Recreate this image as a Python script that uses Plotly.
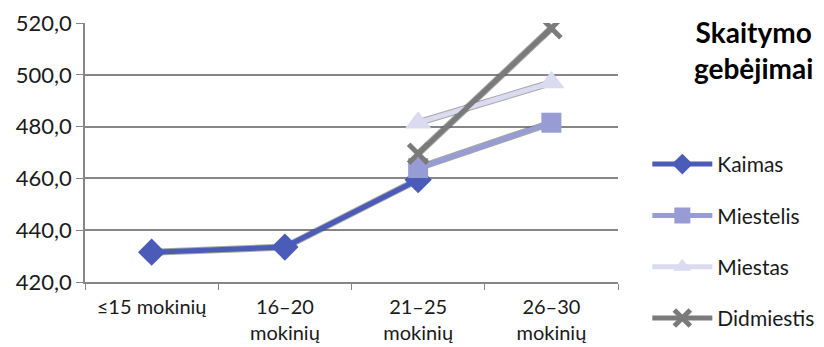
import plotly.graph_objects as go

categories = ["≤15 mokinių", "16–20<br>mokinių", "21–25<br>mokinių", "26–30<br>mokinių"]
kaimas = [431.5, 433.5, 459.5, None]
miestelis = [None, None, 464.0, 481.5]
miestas = [None, None, 481.5, 497.0]
didmiestis = [None, None, 469.5, 518.0]

series = [
    ("Kaimas", kaimas, "#4a5bb8", "diamond", 21),
    ("Miestelis", miestelis, "#979cd5", "square", 20),
    ("Miestas", miestas, "#dadaf0", "triangle-up", 23),
    ("Didmiestis", didmiestis, "#7a7a7a", "x-thin", 19),
]

font_family = "Lato, 'Open Sans', sans-serif"

fig = go.Figure()
# soft dark edge under each line
for name, vals, color, sym, size in series:
    fig.add_trace(go.Scatter(
        x=categories, y=vals, mode="lines",
        line=dict(color="rgba(60,60,60,0.45)", width=7),
        showlegend=False, hoverinfo="skip",
    ))
for name, vals, color, sym, size in series:
    marker = dict(symbol=sym, size=size, color=color)
    if sym == "x-thin":
        marker["line"] = dict(color=color, width=5)
    fig.add_trace(go.Scatter(
        x=categories, y=vals, name=name, mode="lines+markers",
        line=dict(color=color, width=5),
        marker=marker,
        connectgaps=False,
        legendgroup=name,
    ))

fig.update_layout(
    width=824, height=347,
    margin=dict(l=85, r=206, t=23, b=65, autoexpand=False),
    plot_bgcolor="white", paper_bgcolor="white",
    font=dict(family=font_family, size=22, color="#1a1a1a"),
    separators=",.",
    showlegend=True,
    legend=dict(
        x=1.055, y=0.533, xanchor="left", yanchor="top",
        font=dict(size=21), tracegroupgap=21,
        traceorder="grouped", itemwidth=60,
        bgcolor="rgba(0,0,0,0)",
    ),
    annotations=[dict(
        text="<b>Skaitymo<br>gebėjimai</b>", xref="paper", yref="paper",
        x=1.255, y=1.04, xanchor="center", yanchor="top", showarrow=False,
        font=dict(size=28, color="black", family=font_family), align="center",
    )],
)
fig.update_xaxes(
    type="category", range=[-0.5, 3.5], tickson="boundaries",
    ticks="outside", ticklen=6, tickcolor="#868686",
    showline=True, linecolor="#868686", linewidth=1.5,
    showgrid=False, tickfont=dict(size=20), tickangle=0, automargin=False,
    ticklabelstandoff=6,
)
fig.update_yaxes(
    range=[420, 520], dtick=20, tickformat=".1f",
    ticks="outside", ticklen=7, tickcolor="#868686",
    showline=True, linecolor="#868686", linewidth=1.5,
    showgrid=True, gridcolor="#868686", gridwidth=1.5,
    tickfont=dict(size=22), zeroline=False, automargin=False,
)
fig.write_html("out.html")
